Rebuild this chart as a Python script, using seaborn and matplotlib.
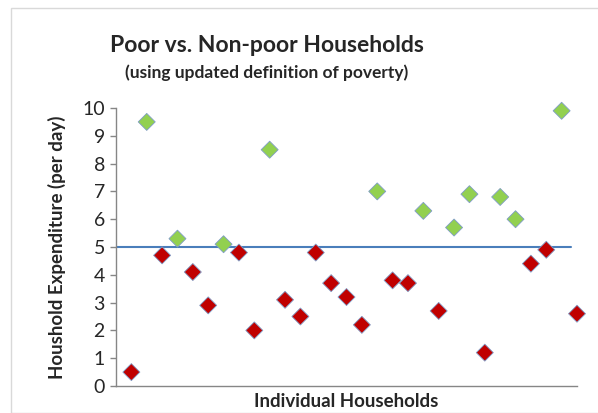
import matplotlib
matplotlib.use('Agg')
import matplotlib.pyplot as plt
import seaborn as sns
import pandas as pd
from matplotlib.patches import Rectangle

# Expenditure per household (per day)
households = list(range(1, 31))
expenditure = [0.5, 9.5, 4.7, 5.3, 4.1, 2.9, 5.1, 4.8, 2.0, 8.5,
               3.1, 2.5, 4.8, 3.7, 3.2, 2.2, 7.0, 3.8, 3.7, 6.3,
               2.7, 5.7, 6.9, 1.2, 6.8, 6.0, 4.4, 4.9, 9.9, 2.6]
poverty_line = 5.0
y_ticks = list(range(0, 11))

df = pd.DataFrame({'household': households, 'expenditure': expenditure})
df['status'] = ['Non-poor' if v > poverty_line else 'Poor' for v in df['expenditure']]

sns.set_style('white')
plt.rcParams['font.family'] = ['Lato', 'DejaVu Sans']

fig = plt.figure(figsize=(5.98, 4.13), dpi=100)
ax = fig.add_axes([116 / 598, 1 - 386 / 413, (577 - 116) / 598, (386 - 108) / 413])

# light frame round the chart
fig.patches.append(Rectangle((11 / 598, 0), 1, 1 - 8 / 413, transform=fig.transFigure,
                             fill=False, edgecolor='#d9d9d9', linewidth=1))

ax.axhline(poverty_line, xmin=0, xmax=0.987, color='#4a7ebb', linewidth=1.5, zorder=1)

sns.scatterplot(data=df, x='household', y='expenditure', hue='status',
                palette={'Poor': '#c00000', 'Non-poor': '#92d050'},
                marker='D', s=75, edgecolor='#7f9cc7', linewidth=0.6,
                legend=False, ax=ax, clip_on=False, zorder=3)

ax.set_xlim(0, 30)
ax.set_ylim(0, 10)
ax.set_yticks(y_ticks)
ax.set_xticks([])
ax.tick_params(axis='y', labelsize=14, length=4, color='#868686', width=1, left=True, pad=4)
for s in ['top', 'right']:
    ax.spines[s].set_visible(False)
for s in ['left', 'bottom']:
    ax.spines[s].set_color('#868686')
    ax.spines[s].set_linewidth(1)

ax.set_ylabel('Houshold Expenditure (per day)', fontsize=13.5, fontweight='bold', labelpad=12)
ax.set_xlabel('Individual Households', fontsize=13.5, fontweight='bold', labelpad=5)

fig.text(267 / 598, 1 - 45 / 413, 'Poor vs. Non-poor Households', ha='center', va='center',
         fontsize=16.5, fontweight='bold')
fig.text(267 / 598, 1 - 73 / 413, '(using updated definition of poverty)', ha='center', va='center',
         fontsize=12.5, fontweight='bold')

fig.savefig('out.png', dpi=100)
